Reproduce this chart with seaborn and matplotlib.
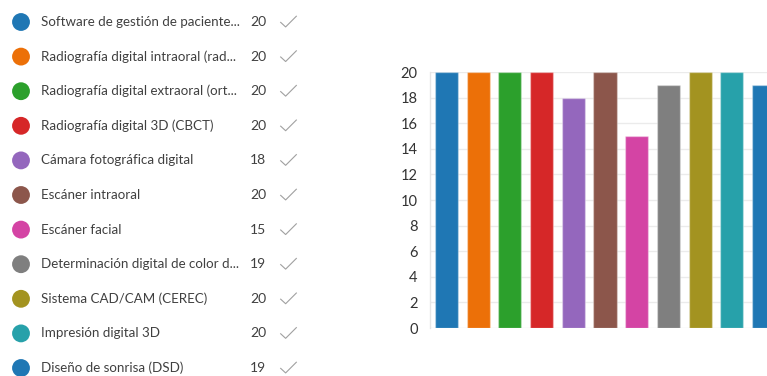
import matplotlib
matplotlib.use("Agg")
import matplotlib.pyplot as plt
from matplotlib.path import Path
import seaborn as sns
import pandas as pd

# Responses per digital tool
labels = [
    "Software de gestión de paciente...",
    "Radiografía digital intraoral (rad...",
    "Radiografía digital extraoral (ort...",
    "Radiografía digital 3D (CBCT)",
    "Cámara fotográfica digital",
    "Escáner intraoral",
    "Escáner facial",
    "Determinación digital de color d...",
    "Sistema CAD/CAM (CEREC)",
    "Impresión digital 3D",
    "Diseño de sonrisa (DSD)",
]
counts = [20, 20, 20, 20, 18, 20, 15, 19, 20, 20, 19]
colors = [
    "#1f77b4", "#ec7008", "#2ca02c", "#d62728", "#9467bd", "#8c564b",
    "#d444a4", "#7f7f7f", "#a39320", "#27a1aa", "#1f77b4",
]
y_ticks = list(range(0, 21, 2))

sns.set_theme(style="white")
plt.rcParams["font.family"] = ["Lato", "DejaVu Sans"]

W, H = 767, 376
fig = plt.figure(figsize=(W / 100, H / 100), dpi=100)

df = pd.DataFrame({"label": labels, "count": counts})

# Bar chart on the right
ax = fig.add_axes([430 / W, 1 - 328 / H, (W - 430) / W, (328 - 72) / H])
sns.barplot(data=df, x="label", y="count", hue="label", palette=colors,
            legend=False, width=0.726, saturation=1, ax=ax,
            edgecolor=(1, 1, 1, 0.35), linewidth=1)
ax.set_xlim(-0.52, 10.11)
ax.set_ylim(0, 20)
ax.set_yticks(y_ticks)
ax.set_yticklabels([str(t) for t in y_ticks])
ax.set_xticks([])
ax.set_xlabel("")
ax.set_ylabel("")
ax.grid(axis="y", color="#ebebeb", linewidth=1)
ax.set_axisbelow(True)
for side in ["top", "right", "bottom"]:
    ax.spines[side].set_visible(False)
ax.spines["left"].set_color("#e6e6e6")
ax.spines["left"].set_linewidth(1)
ax.tick_params(axis="y", length=0, pad=9, labelsize=10.5, labelcolor="#333333")

# Thin check-mark glyph used as a marker
check = Path([(-1.0, 0.0), (-0.35, -0.6), (1.0, 0.75)],
             [Path.MOVETO, Path.LINETO, Path.LINETO])

# Legend-style list on the left
lx = fig.add_axes([0, 0, 322 / W, 1])
lx.set_xlim(0, 322)
lx.set_ylim(H, 0)
lx.axis("off")
rows = [22 + i * 34.6 for i in range(len(labels))]
lx.scatter([21] * len(labels), rows, s=165, c=colors, linewidths=0)
lx.scatter([288.5] * len(labels), rows, s=140, marker=check,
           facecolors="none", edgecolors="#a0a0a0", linewidths=0.8)
for y, lab, n in zip(rows, labels, counts):
    lx.text(41, y, lab, va="center", ha="left", fontsize=9.6, color="#404040")
    lx.text(250, y, str(n), va="center", ha="left", fontsize=10, color="#404040")

fig.savefig("out.png", dpi=100)
